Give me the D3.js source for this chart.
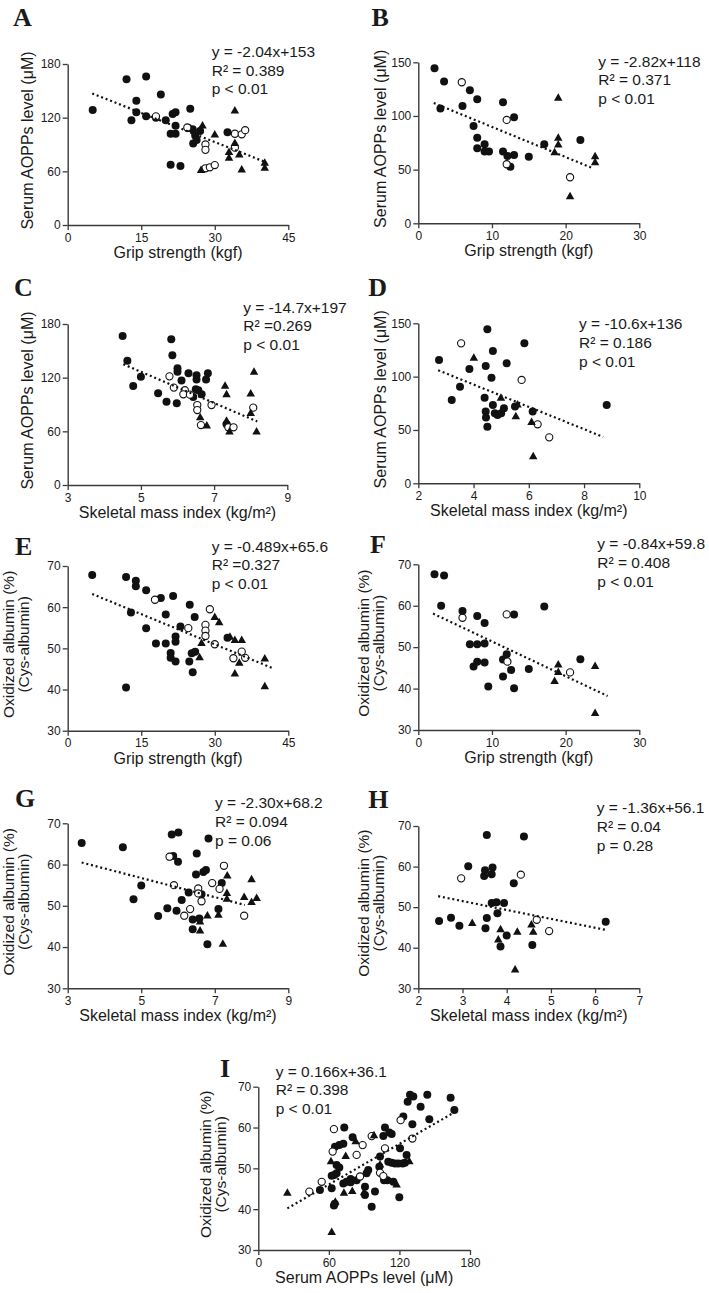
<!DOCTYPE html>
<html><head><meta charset="utf-8">
<script src="https://cdn.jsdelivr.net/npm/d3@7"></script>
<style>
html,body{margin:0;padding:0;background:#fff;}
svg text{font-family:"Liberation Sans",Arial,sans-serif;fill:#1a1a1a;}
.letter{font-family:"Liberation Serif","Times New Roman",serif !important;font-weight:bold;}
</style></head>
<body>
<svg id="c" width="709" height="1293"></svg>
<script>
// ---------- DATA ----------
// Panel A: Serum AOPPs vs Grip strength
const aFilled = [[5.1,128.6],[12,163],[16,166],[19,146],[14,139],[14,126],[13,117],[16,121.5],[18,120],[20,117],[21.4,124],[22,126],[25,130],[22,111],[21,102],[22,102],[21,67.5],[23,66],[24.6,108.5],[25.5,107],[26,100],[25.6,91],[26.3,95],[27,105],[32.6,103.6]];
const aOpen = [[18,121.5],[24.4,109],[28.1,90],[28.1,84],[28.1,63.4],[29,64.5],[30,67],[34.1,102],[35.5,101.4],[36.2,106],[34.1,86.5]];
const aTri = [[27.5,110.7],[30,100.6],[27,106],[32.9,81],[34.1,127.5],[35,78.3],[35.5,61.5],[32.9,74.5],[27.2,61],[40.2,69],[40.2,63.4],[34.1,91]];
const aLine = [[5,147],[40.5,70]];
const aStats = ["y = -2.04x+153","R\u00b2 = 0.389","p < 0.01"];
// Panel B
const bFilled = [[2.2,144.4],[3.5,132],[3,107],[6,109.3],[7,124],[8,115.5],[7.5,90.7],[8,79.8],[8,69.9],[9,73.6],[9,66.8],[9.6,66.8],[11.5,112.7],[13,98.8],[11.5,66.8],[12.1,62.7],[13,63.7],[12.5,52.8],[15,62],[17.1,73.6],[22,77.6]];
const bOpen = [[5.9,131.4],[12,96.3],[12,55],[20.6,42.9]];
const bTri = [[19,116.5],[19,79.2],[19,73],[18.5,65.8],[24,62],[24,56.5],[20.6,24.8]];
const bLine = [[2.1,112],[23.8,51]];
const bStats = ["y = -2.82x+118","R\u00b2 = 0.371","p < 0.01"];
// Panel C
const cFilled = [[4.5,166.6],[4.63,139],[4.79,110.7],[5,121],[5.47,102.5],[5.7,93],[5.98,91.3],[5.83,163],[5.86,145],[6,130.4],[6,126.7],[6.11,116.7],[6.3,125],[6.52,122.7],[6.52,118],[6.5,107],[6.57,106],[6.66,101.4],[6.78,118],[6.83,124.8],[6.43,98.4],[7.34,68]];
const cOpen = [[5.78,121.5],[5.9,108.9],[6.2,106],[6.16,101.4],[6.34,101],[6.54,89.4],[6.54,83.8],[6.64,67],[6.93,89.4],[7.39,64.5],[7.53,64.5],[8.07,86.5]];
const cTri = [[6.62,75.3],[6.8,66],[7.3,110.3],[7.34,101],[7.34,71.4],[7.42,59.2],[8.09,126],[8,101.8],[8,80],[8.16,59.2]];
const cLine = [[4.52,135],[8.18,71]];
const cStats = ["y = -14.7x+197","R\u00b2 =0.269","p < 0.01"];
// Panel D
const dFilled = [[2.75,115.6],[3.21,78.1],[3.51,90.6],[3.85,107.2],[4.5,144.4],[4.44,110],[4.7,124],[4.65,99],[5.2,112.5],[5.84,131.2],[4.4,80.3],[4.44,67.2],[4.45,61.6],[4.5,53.1],[4.7,73.4],[4.77,65.6],[4.87,64.1],[5,65.6],[5.1,70.3],[5.5,71.9],[6.14,67.2],[8.82,73.4]];
const dOpen = [[3.55,131.2],[5.74,96.9],[6.32,55.3],[6.74,43.1]];
const dTri = [[4.01,117.2],[4.99,79.7],[5.59,73.4],[5.53,62.5],[6.1,56.9],[6.16,25]];
const dLine = [[2.72,106],[8.69,43.5]];
const dStats = ["y = -10.6x+136","R\u00b2 = 0.186","p < 0.01"];
// Panel E
const eFilled = [[5,67.8],[11.9,67.3],[13.9,66.4],[13.9,65.1],[16,64.1],[12.9,58.7],[16,54.9],[18,51.2],[19,62.2],[20,51.2],[20,58.2],[21.5,62.7],[21,48.9],[21,47.7],[22,46.8],[22,52.9],[22,51.6],[23,55.3],[11.9,40.5],[24.9,60.6],[25.9,57.6],[24.8,46.8],[25.3,48.8],[26,49.2],[25.5,44.2],[32.6,52.6]];
const eOpen = [[17.8,61.8],[24.6,54.9],[29,59.5],[28.1,55.7],[28.1,54.3],[28.1,53],[30,51],[33.8,47.6],[35.5,49.2],[36.2,47.7]];
const eTri = [[30,57.5],[30.9,56.2],[27.3,51.2],[26.9,47.7],[33.1,52.7],[34.1,51.9],[35.5,51.9],[35,46.4],[34.1,43.8],[40.2,47.4],[40.2,40.7]];
const eLine = [[5,63.2],[42,45.1]];
const eStats = ["y = -0.489x+65.6","R\u00b2 =0.327","p < 0.01"];
// Panel F
const fFilled = [[2.2,67.6],[3.5,67.3],[3.1,60],[6,58.7],[8,57.5],[9,55.8],[7,50.7],[8,50.7],[9,50.9],[7.5,45.3],[8,46.5],[9,46.3],[9.5,40.5],[11.5,47],[12,48.3],[12.6,44.5],[11.5,42.9],[13,40.1],[13,57.9],[15,44.7],[17.1,59.8],[22,47.1]];
const fOpen = [[6,57.1],[12,57.9],[12.1,46.5],[20.6,43.9]];
const fTri = [[19,45.7],[19,43.9],[18.5,41.7],[24,45.3],[24,34]];
const fLine = [[2,58.1],[25.7,38.2]];
const fStats = ["y = -0.84x+59.8","R\u00b2 = 0.408","p < 0.01"];
// Panel G
const gFilled = [[3.38,65.2],[4.5,64.2],[4.79,51.6],[5,54.9],[5.46,47.5],[5.71,49.4],[5.83,67.3],[6.01,67.8],[5.87,62.1],[6,60.7],[5.96,48.8],[6.1,51.4],[6.29,53.2],[6.4,46.7],[6.4,44.3],[6.51,62.7],[6.49,57.6],[6.58,46.9],[6.69,58.2],[6.76,58.7],[6.83,66.3],[6.8,40.7],[7.19,55.5],[7.1,49.2],[6.64,52.8]];
const gOpen = [[5.77,61.9],[5.89,55],[6.17,47.6],[6.33,49.2],[6.55,54.2],[6.55,53],[6.64,51.1],[6.93,55.5],[7.13,54.1],[7.25,59.7],[7.8,47.6]];
const gTri = [[7.34,57.2],[7.33,53],[7.33,51.6],[7.1,47.7],[6.8,47.5],[6.6,46.1],[6.6,43.9],[7.22,40.7],[8,56.3],[7.8,52],[8,50.8],[8.14,51.8]];
const gLine = [[3.38,60.5],[7.82,50.2]];
const gStats = ["y = -2.30x+68.2","R\u00b2 = 0.094","p = 0.06"];
// Panel H
const hFilled = [[2.47,46.6],[2.74,47.4],[2.93,45.4],[3.13,60.1],[3.55,67.8],[3.51,59.1],[3.49,57.7],[3.66,58.1],[3.68,59.8],[3.66,51],[3.77,51.2],[3.94,51],[3.79,48.5],[3.55,47.3],[3.52,44.8],[3.86,40.3],[4,43],[4.16,55.9],[4.39,67.4],[4.58,40.7],[6.24,46.4]];
const hOpen = [[2.97,57.1],[4.32,58],[4.68,46.9],[4.96,44.1]];
const hTri = [[3.22,46],[3.86,44.4],[3.81,41.9],[4.24,43.8],[4.56,45.6],[4.6,43.8],[4.19,34.5]];
const hLine = [[2.45,52.7],[6.24,44.4]];
const hStats = ["y = -1.36x+56.1","R\u00b2 = 0.04","p = 0.28"];
// Panel I
const iFilled = [[52.4,44.7],[62.4,45.1],[62.4,48.2],[64.6,48.4],[66.6,48.8],[65.2,55.3],[68.9,55.7],[72.3,56],[73.1,60],[80.2,57.6],[66.6,50.8],[64.3,40.9],[75.1,46.7],[78.5,47.4],[78.5,46.6],[90.7,45.5],[90.7,43.5],[96.4,40.6],[92.1,48.8],[93.5,49.6],[99.2,44.3],[103.5,52.9],[102.9,50.4],[107.7,60],[106.3,57.9],[106.9,47.1],[109.7,47.1],[111.4,58.8],[113.4,58.4],[110.5,51.6],[113.4,51.4],[116.2,51.2],[119,51.2],[122.7,51.2],[124.7,51.4],[120.5,54.9],[114.8,46.7],[119.9,42.9],[123.3,62.7],[127,66.3],[129,68],[131.8,67.6],[131,60.8],[126.1,53.3],[138,65.1],[143.7,68],[145.4,62],[163.5,67.3],[166.7,64.3],[68.9,50.2],[72.3,46.3],[83.6,47.1],[65,41.3]];
const iOpen = [[43.4,44.3],[53.9,46.7],[64.3,59.6],[63.2,54.1],[83.6,53.3],[88.7,55.7],[96.4,57.9],[86.5,48],[107.7,54.9],[103.5,48.9],[106.3,48.1],[121,61.8],[131,57.3]];
const iTri = [[24.7,43.9],[61.8,51.6],[74.3,52.9],[82.8,56.5],[98.4,58],[72.8,43.9],[79.9,44.3],[89.9,44],[65.5,41.7],[62.4,34.3],[103.5,50.8],[117.6,45.9],[128.4,51.6]];
const iLine = [[24.7,40.2],[166,63.6]];
const iStats = ["y = 0.166x+36.1","R\u00b2 = 0.398","p < 0.01"];

// tick values
const ticksGrip45 = [0,15,30,45];
const ticksGrip30 = [0,10,20,30];
const ticksSMI39 = [3,5,7,9];
const ticksSMI210 = [2,4,6,8,10];
const ticksSMI27 = [2,3,4,5,6,7];
const ticksAOPP = [0,60,120,180];
const ticksAOPP150 = [0,50,100,150];
const ticksOx = [30,40,50,60,70];

// axis titles
const tGrip = "Grip strength (kgf)";
const tSMI = "Skeletal mass index (kg/m\u00b2)";
const tAOPPx = "Serum AOPPs level (\u03bcM)";
const tAOPPy = ["Serum AOPPs level (\u03bcM)"];
const tOxy = ["Oxidized albumin (%)","(Cys-albumin)"];

// ---------- LAYOUT ----------
const panels = [
 {L:"A",f:aFilled,o:aOpen,t:aTri,ln:aLine,st:aStats,xd:[0,45],xt:ticksGrip45,yd:[0,180],yt:ticksAOPP,xT:tGrip,yT:tAOPPy,
  fr:[67.7,288.3,64,225],lp:[13,26],sp:[211.7,57],ytx:[33]},
 {L:"B",f:bFilled,o:bOpen,t:bTri,ln:bLine,st:bStats,xd:[0,30],xt:ticksGrip30,yd:[0,150],yt:ticksAOPP150,xT:tGrip,yT:tAOPPy,
  fr:[418.3,639.3,62.3,223.3],lp:[371.5,26],sp:[598.3,66.5],ytx:[386]},
 {L:"C",f:cFilled,o:cOpen,t:cTri,ln:cLine,st:cStats,xd:[3,9],xt:ticksSMI39,yd:[0,180],yt:ticksAOPP,xT:tSMI,yT:tAOPPy,
  fr:[67.7,287.3,324,485],lp:[14,296],sp:[243.3,312.7],ytx:[33]},
 {L:"D",f:dFilled,o:dOpen,t:dTri,ln:dLine,st:dStats,xd:[2,10],xt:ticksSMI210,yd:[0,150],yt:ticksAOPP150,xT:tSMI,yT:tAOPPy,
  fr:[418.3,639.3,323.3,483.3],lp:[368.3,296],sp:[579,329.3],ytx:[386]},
 {L:"E",f:eFilled,o:eOpen,t:eTri,ln:eLine,st:eStats,xd:[0,45],xt:ticksGrip45,yd:[30,70],yt:ticksOx,xT:tGrip,yT:tOxy,
  fr:[67.7,288.3,566,730.7],lp:[15,555],sp:[211.7,551.7],ytx:[14,29]},
 {L:"F",f:fFilled,o:fOpen,t:fTri,ln:fLine,st:fStats,xd:[0,30],xt:ticksGrip30,yd:[30,70],yt:ticksOx,xT:tGrip,yT:tOxy,
  fr:[418.3,639.3,564.3,730],lp:[370,553.3],sp:[597.3,549.3],ytx:[369,384]},
 {L:"G",f:gFilled,o:gOpen,t:gTri,ln:gLine,st:gStats,xd:[3,9],xt:ticksSMI39,yd:[30,70],yt:ticksOx,xT:tSMI,yT:tOxy,
  fr:[67.7,288.3,823.3,988.3],lp:[15,806.7],sp:[215,808.3],ytx:[14,29]},
 {L:"H",f:hFilled,o:hOpen,t:hTri,ln:hLine,st:hStats,xd:[2,7],xt:ticksSMI27,yd:[30,70],yt:ticksOx,xT:tSMI,yT:tOxy,
  fr:[418.3,639.3,826,988.3],lp:[368.3,808.3],sp:[596.7,813.3],ytx:[369,384]},
 {L:"I",f:iFilled,o:iOpen,t:iTri,ln:iLine,st:iStats,xd:[0,180],xt:ticksAOPP,yd:[30,70],yt:ticksOx,xT:tAOPPx,yT:tOxy,
  fr:[258.3,470,1086.7,1250],lp:[220,1076.7],sp:[275.7,1076.7],ytx:[211,226]}
];

const svg = d3.select("#c");
const AX = "#3a3a3a";
const INK = "#111";
const triPath = (w,h)=>`M0,${-h*2/3}L${w/2},${h/3}L${-w/2},${h/3}Z`;
const fmt = d => String(d);

panels.forEach(p=>{
  const [x0,x1,y0,y1] = p.fr;
  const x = d3.scaleLinear().domain(p.xd).range([x0,x1]);
  const y = d3.scaleLinear().domain(p.yd).range([y1,y0]);
  const g = svg.append("g");

  // axes
  const xa = g.append("g").attr("transform",`translate(0,${y1})`)
    .call(d3.axisBottom(x).tickValues(p.xt).tickFormat(fmt).tickSize(5).tickPadding(3).tickSizeOuter(0));
  const ya = g.append("g").attr("transform",`translate(${x0},0)`)
    .call(d3.axisLeft(y).tickValues(p.yt).tickFormat(fmt).tickSize(5).tickPadding(2).tickSizeOuter(0));
  [xa,ya].forEach(a=>{
    a.select(".domain").attr("stroke",AX).attr("stroke-width",1.4);
    a.selectAll(".tick line").attr("stroke",AX).attr("stroke-width",1.3);
    a.selectAll(".tick text").attr("fill","#333").style("font-size","12px")
      .style("font-family",'"Liberation Sans",Arial,sans-serif');
  });

  // points
  g.append("g").selectAll("circle").data(p.f).join("circle")
    .attr("cx",d=>x(d[0])).attr("cy",d=>y(d[1])).attr("r",4).attr("fill",INK);
  g.append("g").selectAll("circle").data(p.o).join("circle")
    .attr("cx",d=>x(d[0])).attr("cy",d=>y(d[1])).attr("r",3.6)
    .attr("fill","#fff").attr("stroke",INK).attr("stroke-width",1.1);
  g.append("g").selectAll("path").data(p.t).join("path")
    .attr("d",triPath(8.5,7.5))
    .attr("transform",d=>`translate(${x(d[0])},${y(d[1])})`).attr("fill",INK);

  // regression line (dotted)
  g.append("path").datum(p.ln)
    .attr("d",d3.line().x(d=>x(d[0])).y(d=>y(d[1])))
    .attr("fill","none").attr("stroke",INK).attr("stroke-width",2.2)
    .attr("stroke-dasharray","2,2.8");

  // letter
  g.append("text").attr("class","letter").attr("x",p.lp[0]).attr("y",p.lp[1])
    .style("font-size","26px").text(p.L);

  // stats
  p.st.forEach((s,i)=>{
    g.append("text").attr("x",p.sp[0]).attr("y",p.sp[1]+i*18.6)
      .style("font-size","15.5px").text(s);
  });

  // x title
  g.append("text").attr("x",(x0+x1)/2).attr("y",y1+33)
    .attr("text-anchor","middle").style("font-size","16px").text(p.xT);

  // y title
  const yc = (y0+y1)/2 - 4;
  p.yT.forEach((s,i)=>{
    g.append("text").attr("transform",`translate(${p.ytx[i]},${yc}) rotate(-90)`)
      .attr("text-anchor","middle").style("font-size", p.yT.length>1?"15.5px":"16px").text(s);
  });
});
</script>
</body></html>
